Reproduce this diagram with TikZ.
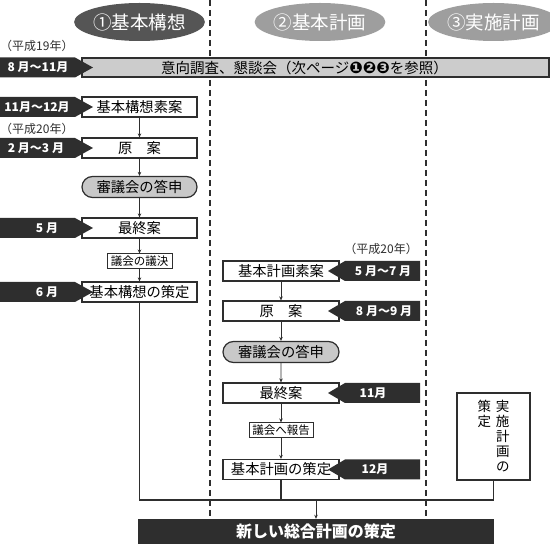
\documentclass[tikz,border=0pt]{standalone}
\usepackage{fontspec}
\setmainfont{Noto Sans CJK JP}
\newfontfamily\dejavu{DejaVu Sans}
\usetikzlibrary{arrows.meta,shapes.misc,shapes.geometric}
\definecolor{ink}{HTML}{2E2E2E}
\definecolor{hdrA}{HTML}{555555}
\definecolor{hdrB}{HTML}{9E9E9E}
\definecolor{barg}{HTML}{CCCCCC}
\definecolor{roundg}{HTML}{C8C8C8}
\tikzset{
  box/.style={draw=ink, line width=1.2pt, fill=white, inner sep=0pt, minimum height=20pt, font=\fontsize{14.3}{15}\selectfont},
  smallbox/.style={draw=ink, line width=1pt, fill=white, inner sep=0pt, minimum height=15pt, font=\fontsize{11.5}{12}\selectfont},
  roundbox/.style={rounded rectangle, draw=ink, line width=1.2pt, fill=roundg, inner sep=0pt, minimum height=21pt, font=\fontsize{14.3}{15}\selectfont},
  hdr/.style={ellipse, inner sep=0pt, minimum width=115pt, minimum height=38pt, text=white, font=\fontsize{18.5}{20}\selectfont},
  lbl/.style={inner sep=0pt, text=white, font=\bfseries\fontsize{12}{13}\selectfont},
  yr/.style={inner sep=0pt, text=ink, font=\fontsize{12}{13}\selectfont},
  conn/.style={draw=ink, line width=0.8pt, -{Stealth[length=4pt,width=3.5pt]}},
  bus/.style={draw=ink, line width=1.4pt},
  divider/.style={draw=ink, line width=1.3pt, dash pattern=on 6pt off 4pt}
}
\newcommand\rarr[5]{%
  \fill[ink] (0,#2-10) -- (#3-18,#2-10) -- (#3,#2) -- (#3-18,#2+10) -- (0,#2+10) -- cycle;
  \node[lbl] (#1) at (#4,#2) {#5};}
\newcommand\larr[5]{%
  \fill[ink] (420,#2-10) -- (#3+17,#2-10) -- (#3,#2) -- (#3+17,#2+10) -- (420,#2+10) -- cycle;
  \node[lbl] (#1) at (#4,#2) {#5};}
\begin{document}
\begin{tikzpicture}[x=1pt,y=-1pt]
\useasboundingbox (0,0) rectangle (550,545);
% dividers
\draw[divider] (210,0) -- (210,519);
\draw[divider] (426,0) -- (426,519);
% headers
\node[hdr, fill=hdrA] (h1) at (139.5,22) {①基本構想};
\node[hdr, fill=hdrB] (h2) at (320,22) {②基本計画};
\node[hdr, fill=hdrB] (h3) at (493.5,22) {③実施計画};
% survey bar
\node[draw=ink, line width=1.2pt, fill=barg, inner sep=0pt, minimum width=467pt, minimum height=19pt, font=\fontsize{14.5}{15}\selectfont] (bar) at (315.5,67.5) {\hspace{-22pt}意向調査、懇談会（次ページ{\dejavu\bfseries\fontsize{16}{16}\selectfont ❶❷❸}を参照）};
\node[yr, anchor=west] (y19) at (0,46) {（平成19年）};
\rarr{m1}{67.5}{93}{38}{8 月～11月}
% left column
\node[box, minimum width=115pt] (a1) at (139.5,107) {基本構想素案};
\rarr{m2}{107}{93}{37}{11月～12月}
\node[yr, anchor=west] (y20a) at (0,129) {（平成20年）};
\node[box, minimum width=115pt] (a2) at (139.5,148) {原　案};
\rarr{m3}{148}{93}{36}{2 月～3 月}
\node[roundbox, minimum width=115pt] (a3) at (139.5,187) {審議会の答申};
\node[box, minimum width=115pt] (a4) at (139.5,228) {最終案};
\rarr{m4}{228}{93}{47}{5 月}
\node[smallbox, minimum width=65pt] (a5) at (139.5,261.5) {議会の議決};
\node[box, minimum width=115pt] (a6) at (139.5,292) {基本構想の策定};
\rarr{m5}{292}{93}{47}{6 月}
\draw[conn] (a1) -- (a2);
\draw[conn] (a2) -- (a3);
\draw[conn] (a3) -- (a4);
\draw[conn] (a4) -- (a5);
\draw[conn] (a5) -- (a6);
% middle column
\node[yr, anchor=east] (y20b) at (418,249) {（平成20年）};
\node[box, minimum width=116pt] (b1) at (281,271) {基本計画素案};
\larr{n1}{271}{328}{383}{5 月～7 月}
\node[box, minimum width=116pt] (b2) at (281,311) {原　案};
\larr{n2}{311}{328}{384}{8 月～9 月}
\node[roundbox, minimum width=116pt] (b3) at (281,352) {審議会の答申};
\node[box, minimum width=116pt] (b4) at (281,393) {最終案};
\larr{n3}{393}{328}{373}{11月}
\node[smallbox, minimum width=64pt] (b5) at (281,430.5) {議会へ報告};
\node[box, minimum width=116pt] (b6) at (281,469.5) {基本計画の策定};
\larr{n4}{469.5}{328}{375}{12月}
\draw[conn] (b1) -- (b2);
\draw[conn] (b2) -- (b3);
\draw[conn] (b3) -- (b4);
\draw[conn] (b4) -- (b5);
\draw[conn] (b5) -- (b6);
% right column
\node[draw=ink, line width=1.2pt, fill=white, inner sep=0pt, minimum width=73pt, minimum height=87pt, align=center, font=\fontsize{13.5}{15}\selectfont] (c1) at (493.5,436.5) {策\hspace{5pt}実\\定\hspace{5pt}施\\\phantom{定}\hspace{5pt}計\\\phantom{定}\hspace{5pt}画\\\phantom{定}\hspace{5pt}の};
% bottom
\node[fill=ink, inner sep=0pt, minimum width=356pt, minimum height=25pt, text=white, font=\bfseries\fontsize{16}{17}\selectfont] (d) at (316,531.5) {新しい総合計画の策定};
\coordinate (busL) at (139.5,500);
\coordinate (busR) at (493.5,500);
\draw[bus] (a6.south) -- (busL) -- (busR) -- (c1.south);
\draw[bus] (b6.south) -- (b6.south |- busL);
\draw[conn] (d.north |- busL) -- (d.north);
\end{tikzpicture}
\end{document}
